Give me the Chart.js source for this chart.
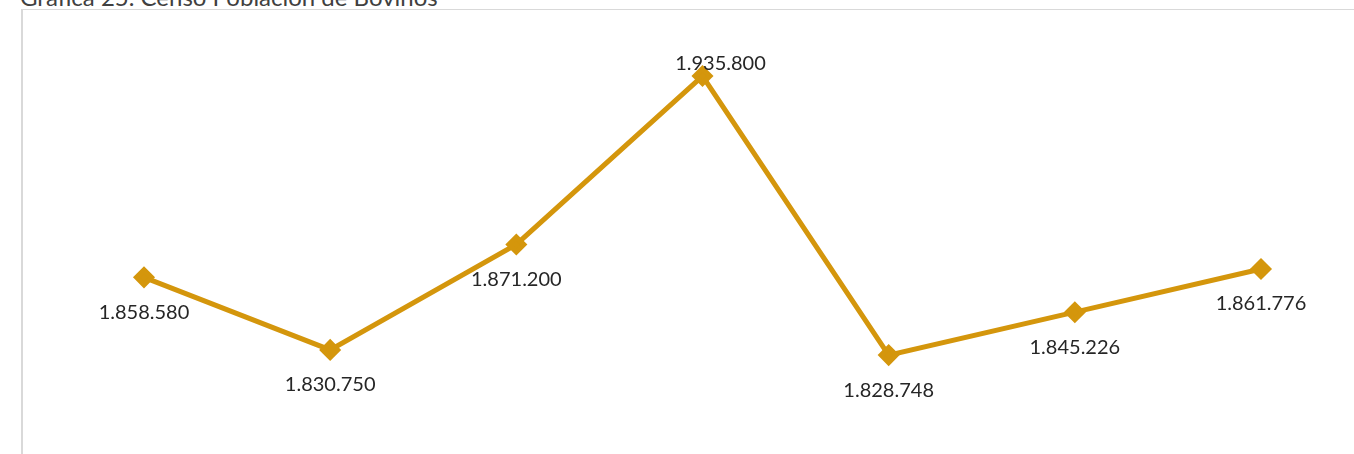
<!DOCTYPE html>
<html><head><meta charset="utf-8">
<script src="https://cdn.jsdelivr.net/npm/chart.js@4/dist/chart.umd.min.js"></script>
<style>
html,body{margin:0;padding:0;background:#fff;overflow:hidden;width:1354px;height:454px;}
#title{position:absolute;left:20px;top:-18px;font-family:"Lato",sans-serif;font-size:24px;color:#404040;white-space:nowrap;}
#frame{position:absolute;left:21px;top:9px;width:1400px;height:500px;border-left:2px solid #d9d9d9;border-top:1px solid #d9d9d9;}
#wrap{position:absolute;left:0;top:0;width:1354px;height:454px;}
</style></head>
<body>
<div id="title">Gráfica 25. Censo Población de Bovinos</div>
<div id="frame"></div>
<div id="wrap"><canvas id="c" width="1354" height="454"></canvas></div>
<script>
const categories = ["1","2","3","4","5","6","7"];
const bovinos = [1858580, 1830750, 1871200, 1935800, 1828748, 1845226, 1861776];
const labelText = ["1.858.580","1.830.750","1.871.200","1.935.800","1.828.748","1.845.226","1.861.776"];
const labelPos = ["below","below","below","above","below","below","below"];

const labelPlugin = {
  id:'lbl',
  afterDatasetsDraw(chart){
    const ctx = chart.ctx;
    const meta = chart.getDatasetMeta(0);
    ctx.save();
    ctx.font = '20px Lato, sans-serif';
    ctx.fillStyle = '#262626';
    ctx.textAlign = 'center';
    ctx.textBaseline = 'middle';
    meta.data.forEach((p,i)=>{
      if(labelPos[i]==='above') ctx.fillText(labelText[i], p.x+18, p.y-13);
      else ctx.fillText(labelText[i], p.x, p.y+35);
    });
    ctx.restore();
  }
};

new Chart(document.getElementById('c'),{
  type:'line',
  data:{labels:categories,datasets:[{data:bovinos,borderColor:'#D4960C',backgroundColor:'#D4960C',borderWidth:5,pointStyle:'rectRot',pointRadius:7.5,pointHoverRadius:7.5,tension:0,clip:false}]},
  options:{
    responsive:false,animation:false,
    layout:{padding:{left:144,right:93,top:0,bottom:0}},
    plugins:{legend:{display:false},tooltip:{enabled:false}},
    scales:{
      x:{display:false,offset:false},
      y:{display:false,min:1795610,max:1960181}
    }
  },
  plugins:[labelPlugin]
});
</script>
</body></html>
